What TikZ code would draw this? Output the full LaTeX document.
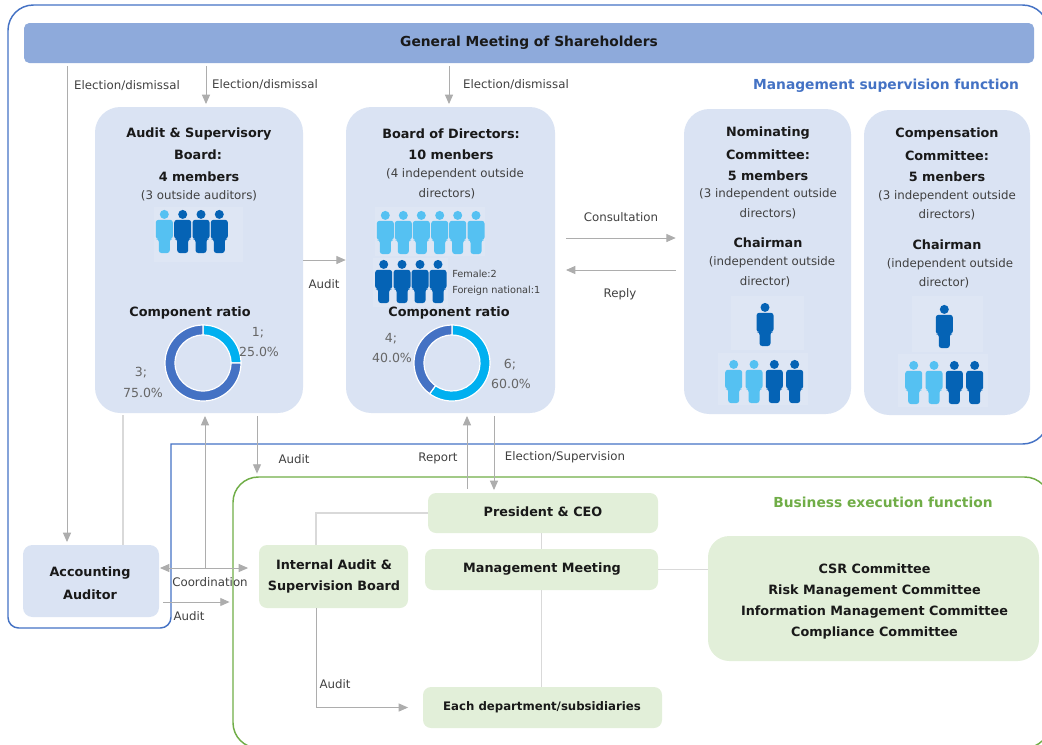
\documentclass[tikz,border=0pt]{standalone}
\usepackage{fontspec}
\setmainfont{DejaVu Sans}
\usetikzlibrary{arrows.meta}
\def\px{0.75pt}
\definecolor{paleblue}{HTML}{DAE3F3}
\definecolor{iconback}{HTML}{DEE6F4}
\definecolor{barblue}{HTML}{8EAADB}
\definecolor{palegreen}{HTML}{E2EFD9}
\definecolor{frameblue}{HTML}{4472C4}
\definecolor{framegreen}{HTML}{70AD47}
\definecolor{skyicon}{HTML}{55C1F2}
\definecolor{navyicon}{HTML}{0563B5}
\definecolor{ringsky}{HTML}{00B0F0}
\definecolor{flowgray}{HTML}{ADADAD}
\definecolor{linkgray}{HTML}{D9D9D9}
\definecolor{bodygray}{HTML}{404040}
\definecolor{ratiogray}{HTML}{666666}
\tikzset{
	panel/.style={fill=paleblue, rounded corners=19pt, inner sep=0pt},
	greenbox/.style={fill=palegreen, rounded corners=6pt, inner sep=0pt},
	head/.style={inner sep=0pt, yshift=-0.6pt, font=\fontsize{9.6}{11}\selectfont\bfseries, text=black!90},
	title/.style={head, font=\fontsize{10.35}{12}\selectfont\bfseries},
	body/.style={inner sep=0pt, yshift=-0.5pt, font=\fontsize{8.85}{10}\selectfont, text=bodygray},
	tiny/.style={inner sep=0pt, anchor=west, font=\fontsize{7.3}{8}\selectfont, text=bodygray},
	ratio/.style={inner sep=0pt, font=\fontsize{9.4}{10}\selectfont, text=ratiogray},
	flow/.style={draw=flowgray, line width=0.7pt, -{Triangle[length=7pt,width=6pt]}, shorten <=2pt, shorten >=2pt},
	both/.style={draw=flowgray, line width=0.7pt, {Triangle[length=7pt,width=6pt]}-{Triangle[length=7pt,width=6pt]}},
	link/.style={draw=linkgray, line width=1pt},
	pics/person/.style={code={
		\fill[#1] (0,4.4) circle [radius=4.5*\px];
		\fill[#1, rounded corners=2pt] (-8.5,9.8) -- (8.5,9.8) -- (8.5,29) -- (5.5,29) -- (5.5,43) -- (-5.5,43) -- (-5.5,29) -- (-8.5,29) -- cycle;
	}}
}
\newcommand\ringseg[4]{
	\begin{scope}[shift={(#1)}, x=1pt, y=1pt]
		\fill[#4, draw=white, line width=0.9pt] (#2:38*\px) arc [start angle=#2, end angle=#3, radius=38*\px]
			-- (#3:28*\px) arc [start angle=#3, end angle=#2, radius=28*\px] -- cycle;
	\end{scope}
}
\begin{document}
\begin{tikzpicture}[x=0.75pt, y=-0.75pt]
	\useasboundingbox (0,0) rectangle (1042,744);
	\clip (0,0) rectangle (1042,744);
	% frames
	\draw[frameblue, line width=1.1pt] (171,444) [rounded corners=8pt] -- (171,628) -- (8,628) [rounded corners=19pt] -- (8,5) -- (1048,5) -- (1048,444) [sharp corners] -- cycle;
	\node (biz) at (641.5,612.5) [draw=framegreen, line width=1.1pt, rounded corners=19pt, minimum width=817*\px, minimum height=271*\px] {};
	% boxes
	\node (gms) at (529,43) [fill=barblue, rounded corners=4pt, minimum width=1010*\px, minimum height=40*\px, inner sep=0pt] {};
	\node (aud) at (199,260) [panel, minimum width=208*\px, minimum height=306*\px] {};
	\node (brd) at (450.5,260) [panel, minimum width=209*\px, minimum height=306*\px] {};
	\node (nom) at (767.5,261.5) [panel, minimum width=167*\px, minimum height=305*\px] {};
	\node (cmp) at (947,262.5) [panel, minimum width=166*\px, minimum height=305*\px] {};
	\node (acc) at (91,581) [fill=paleblue, rounded corners=7pt, minimum width=136*\px, minimum height=72*\px, inner sep=0pt] {};
	\node (int) at (333.5,576.5) [greenbox, minimum width=149*\px, minimum height=63*\px] {};
	\node (pre) at (543,513) [greenbox, minimum width=230*\px, minimum height=40*\px] {};
	\node (mgt) at (541.5,569.5) [greenbox, minimum width=233*\px, minimum height=41*\px] {};
	\node (dep) at (542.5,707.5) [greenbox, minimum width=239*\px, minimum height=41*\px] {};
	\node (csr) at (873.5,598.5) [greenbox, rounded corners=16pt, minimum width=331*\px, minimum height=125*\px] {};
	% icon backgrounds
	\fill[iconback] (154,207) rectangle (243,262);
	\fill[iconback] (375,207) rectangle (485,256);
	\fill[iconback] (373,258) rectangle (448,307);
	\fill[iconback] (731,296) rectangle (804,350);
	\fill[iconback] (718,353) rectangle (808,405);
	\fill[iconback] (912,296) rectangle (983,352);
	\fill[iconback] (898,354) rectangle (988,407);
	% people
	\foreach \x/\c in {164.3/skyicon, 182.7/navyicon, 201/navyicon, 219.3/navyicon}
		\pic at (\x,210) {person=\c};
	\foreach \x in {385.3,403.3,421.3,439.7,457.7,476}
		\pic at (\x,211) {person=skyicon};
	\foreach \x in {383.7,402,420,438}
		\pic at (\x,260) {person=navyicon};
	\pic at (765,303) {person=navyicon};
	\pic at (944.3,305) {person=navyicon};
	\foreach \x/\c in {733.7/skyicon, 754/skyicon, 774.3/navyicon, 794.7/navyicon}
		\pic at (\x,360) {person=\c};
	\foreach \x/\c in {913.7/skyicon, 934/skyicon, 954.3/navyicon, 974.7/navyicon}
		\pic at (\x,361) {person=\c};
	% rings
	\ringseg{203,363}{90}{0}{ringsky}
	\ringseg{203,363}{0}{-270}{frameblue}
	\ringseg{452,363}{90}{-126}{ringsky}
	\ringseg{452,363}{-126}{-270}{frameblue}
	% connectors
	\coordinate (ycoord) at (0,568);
	\coordinate (xhire) at (67,0);
	\coordinate (xaud) at (206,0);
	\coordinate (xbrd) at (449,0);
	\draw[flow] (gms.south -| xhire) -- (acc.north -| xhire);
	\draw[flow] (gms.south -| xaud) -- (aud.north -| xaud);
	\draw[flow] (gms.south -| xbrd) -- (brd.north -| xbrd);
	\coordinate (yaudit) at (0,260);
	\draw[flow, shorten <=0pt, shorten >=0pt] (aud.east |- yaudit) -- (brd.west |- yaudit);
	\coordinate (yask) at (0,238);
	\coordinate (yreply) at (0,270);
	\draw[flow, shorten <=8pt, shorten >=6pt] (brd.east |- yask) -- (nom.west |- yask);
	\draw[flow, shorten <=6pt, shorten >=8pt] (nom.west |- yreply) -- (brd.east |- yreply);
	\coordinate (xacc) at (123,0);
	\draw[link] (aud.south -| xacc) ++(0,2) -- (acc.north -| xacc);
	\coordinate (xcoord) at (205,0);
	\draw[flow, shorten <=0pt] (ycoord -| xcoord) -- (aud.south -| xcoord);
	\draw[both, shorten <=0.5pt, shorten >=8pt] (acc.east |- ycoord) -- (int.west |- ycoord);
	\coordinate (xdown) at (257,0);
	\draw[flow] (aud.south -| xdown) -- (biz.north -| xdown);
	\coordinate (xrep) at (467,0);
	\coordinate (xsup) at (494,0);
	\draw[flow, shorten <=3pt] (pre.north -| xrep) -- (brd.south -| xrep);
	\draw[flow, shorten >=2pt] (brd.south -| xsup) -- (pre.north -| xsup);
	\coordinate (yacc) at (0,602);
	\draw[flow, shorten <=3pt] (acc.east |- yacc) -- (biz.west |- yacc);
	\coordinate (xint) at (316,0);
	\draw[link] (int.north -| xint) |- (pre.west);
	\draw[flow, shorten <=0pt, shorten >=11pt] (int.south -| xint) |- (dep.west);
	\draw[link] (pre.south -| mgt.north) -- (mgt.north);
	\draw[link] (mgt.south) -- (dep.north -| mgt.south);
	\draw[link] (mgt.east) -- (csr.west |- mgt.east);
	% panel texts
	\node (gms1) at (529,42) [title] {General Meeting of Shareholders};
	\node (aud1) at (199,133) [head] {Audit \& Supervisory};
	\node (aud2) at (198,154) [head] {Board:};
	\node (aud3) at (199,176) [head] {4 members};
	\node (aud4) at (199,195) [body] {(3 outside auditors)};
	\node (aud5) at (190,312) [head] {Component ratio};
	\node (brd1) at (451,133) [head] {Board of Directors:};
	\node (brd2) at (451,154) [head] {10 menbers};
	\node (brd3) at (455,174) [body] {(4 independent outside};
	\node (brd4) at (447,193) [body] {directors)};
	\node (brd5) at (449,312) [head] {Component ratio};
	\node (fem) at (452,274) [tiny] {Female:2};
	\node (for) at (452,291) [tiny] {Foreign national:1};
	\node (nom1) at (768,132) [head] {Nominating};
	\node (nom2) at (768,154) [head] {Committee:};
	\node (nom3) at (768,175) [head] {5 members};
	\node (nom4) at (768,194) [body] {(3 independent outside};
	\node (nom5) at (768,213) [body] {directors)};
	\node (nom6) at (768,242) [head] {Chairman};
	\node (nom7) at (772,262) [body] {(independent outside};
	\node (nom8) at (765,281) [body] {director)};
	\node (cmp1) at (947,133) [head] {Compensation};
	\node (cmp2) at (947,155) [head] {Committee:};
	\node (cmp3) at (947,176) [head] {5 menbers};
	\node (cmp4) at (947,196) [body] {(3 independent outside};
	\node (cmp5) at (947,214) [body] {directors)};
	\node (cmp6) at (947,244) [head] {Chairman};
	\node (cmp7) at (950,264) [body] {(independent outside};
	\node (cmp8) at (944,282) [body] {director)};
	% ratios
	\node (r1a) at (258,333) [ratio] {1;};
	\node (r1b) at (259,352) [ratio] {25.0\%};
	\node (r3a) at (141,373) [ratio] {3;};
	\node (r3b) at (143,393) [ratio] {75.0\%};
	\node (r4a) at (391,339) [ratio] {4;};
	\node (r4b) at (392,358) [ratio] {40.0\%};
	\node (r6a) at (510,365) [ratio] {6;};
	\node (r6b) at (511,384) [ratio] {60.0\%};
	% box texts
	\node (acc1) at (90,572) [head] {Accounting};
	\node (acc2) at (90,594) [head] {Auditor};
	\node (int1) at (334,564) [head] {Internal Audit \&};
	\node (int2) at (334,586) [head] {Supervision Board};
	\node (pre1) at (543,511) [head] {President \& CEO};
	\node (mgt1) at (542,568) [head] {Management Meeting};
	\node (dep1) at (542,706) [head, font=\fontsize{8.8}{10}\selectfont\bfseries] {Each department/subsidiaries};
	\node (csr1) at (874.5,568) [head] {CSR Committee};
	\node (csr2) at (874.5,590) [head] {Risk Management Committee};
	\node (csr3) at (874.5,611) [head] {Information Management Committee};
	\node (csr4) at (874.5,632) [head] {Compliance Committee};
	\node (supt) at (886,85) [title, text=frameblue] {Management supervision function};
	\node (bizt) at (883,502) [title, text=framegreen] {Business execution function};
	% connector labels
	\node (l1) at (127,85) [body] {Election/dismissal};
	\node (l2) at (265,84) [body] {Election/dismissal};
	\node (l3) at (516,84) [body] {Election/dismissal};
	\node (l4) at (324,283) [body] {Audit};
	\node (l5) at (621,216) [body] {Consultation};
	\node (l6) at (620,294) [body] {Reply};
	\node (l7) at (294,458) [body] {Audit};
	\node (l8) at (438,458) [body] {Report};
	\node (l9) at (565,457) [body] {Election/Supervision};
	\node (l10) at (210,581) [body] {Coordination};
	\node (l11) at (189,615) [body] {Audit};
	\node (l12) at (335,683) [body] {Audit};
\end{tikzpicture}
\end{document}
